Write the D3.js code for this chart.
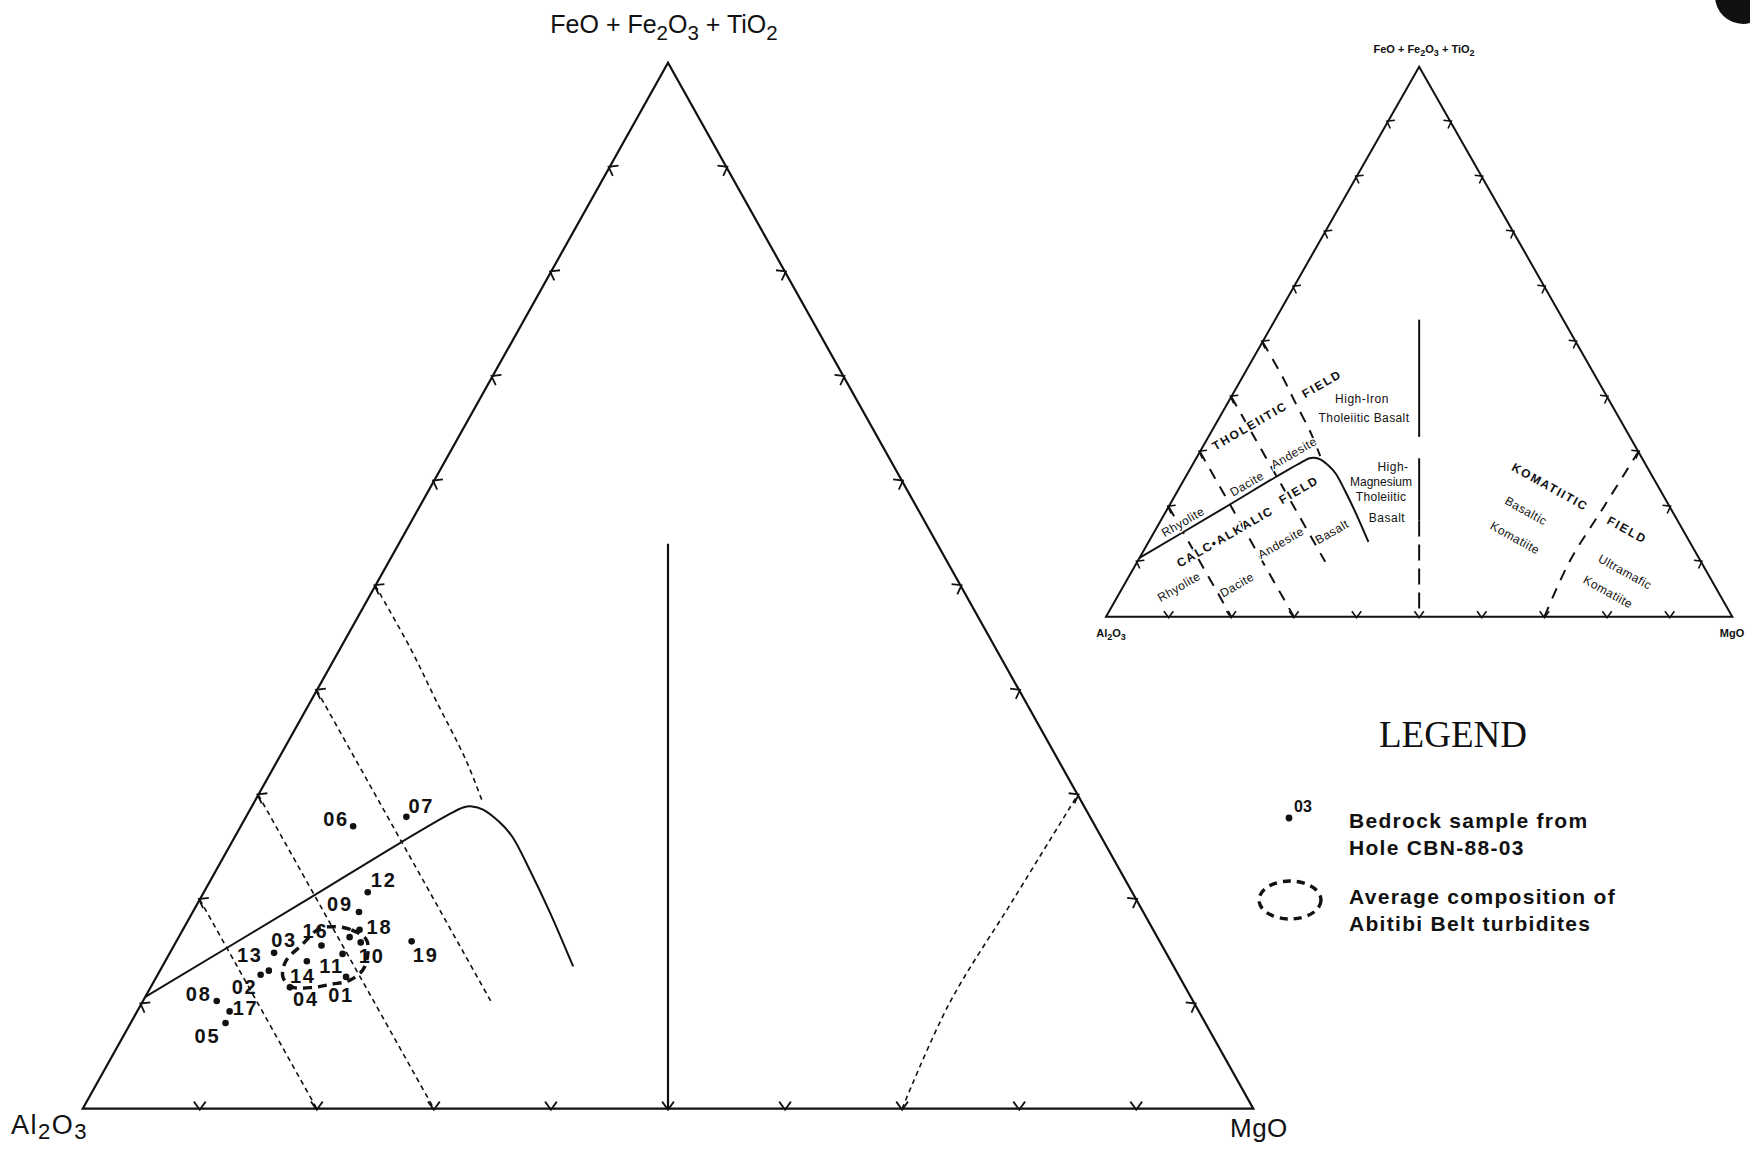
<!DOCTYPE html>
<html>
<head>
<meta charset="utf-8">
<title>Jensen cation plot - CBN-88-03</title>
<script src="https://d3js.org/d3.v7.min.js"></script>
<style>
  body { margin: 0; background: #fff; }
  text { font-family: "Liberation Sans", Arial, Helvetica, sans-serif; fill: #111; }
</style>
</head>
<body>
<svg id="chart" width="1750" height="1149"></svg>
<script>
// cation %: Al2O3 / FeO+Fe2O3+TiO2 / MgO
var sampleIds = ["01","02","03","04","05","06","07","08","09","10","11","12","13","14","","16","17","18","19"];
var sampleAl  = [71.2, 78.4, 76.2, 76.5, 83.7, 63.4, 58.4, 83.4, 67.0, 68.3, 70.4, 65.3, 77.5, 73.8, 69.0, 71.8, 82.8, 67.8, 63.9];
var sampleFe  = [12.6, 12.8, 14.9, 11.6,  8.2, 27.0, 27.9, 10.3, 18.8, 15.9, 14.8, 20.7, 13.2, 14.1, 16.4, 15.6,  9.3, 17.1, 16.0];
var sampleMg  = [16.2,  8.8,  8.9, 11.9,  8.1,  9.6, 13.7,  6.3, 14.2, 15.8, 14.8, 14.0,  9.3, 12.1, 14.6, 12.6,  7.9, 15.1, 20.1];

// Abitibi turbidite average field (outline)
var turbiditeOutline = [
  [69.9,17.4,12.7],[68.5,17.1,14.4],[67.7,16.0,16.3],[69.1,13.6,17.3],[71.0,12.3,16.7],[72.8,11.9,15.3],
  [74.5,11.6,13.9],[76.2,11.6,12.2],[76.6,12.6,10.8],[75.5,14.2,10.3],[73.4,15.7,10.9],[71.4,17.1,11.5]
];

// tholeiitic / calc-alkalic boundary
var boundaryTHCA = [
  [89.3,10.7,0],[71.6,19.6,8.8],[60.2,25.4,14.4],[54.5,28.2,17.3],[53.1,28.8,18.1],[52.3,28.9,18.8],
  [51.5,28.6,19.9],[50.7,27.4,21.9],[50.3,26.0,23.7],[50.4,22.8,26.8],[50.7,18.8,30.5],[51.3,13.6,35.1]
];
// rock-type divisions
var rhyoliteDacite = [[80,20,0],[80,0,20]];
var daciteAndesite = [[70,30,0],[70,0,30]];
var andesiteBasalt = [[60,40,0],[60,10,30]];
var basaltTholeiite = [[50,50,0],[50,43.9,6.1],[50.3,39.1,10.6],[50.6,33.3,16.1],[51.2,29.2,19.6]];
var komatiiteLine = [[30,0,70],[21,10,69],[10.5,20,69.5],[0,30,70]];
var tholeiiteKomatiite = [[50,0,50],[23,54,23]];
var insetVerticalSolid = [[54,32.7],[28.8,17.5]];   // Fe ranges
var insetVerticalDashed = [[17.5,0]];

var tickValues = d3.range(10, 100, 10);

var mainFrame  = {left: 82.7, right: 1253.3, top: 62.7, bottom: 1108.7};
var insetFrame = {left: 1106, right: 1732.3, top: 66.7, bottom: 616.7};

var labelOffsets = {
  "01":[-5,18], "02":[-16,12], "03":[10,-13], "04":[16,12], "05":[-18,13], "06":[-17,-7],
  "07":[15,-11], "08":[-18,-7], "09":[-19,-8], "10":[11,14], "11":[-11,12], "12":[16,-12],
  "13":[-19,-16], "14":[-4,15], "16":[-6,-15], "17":[16,-3], "18":[20,-3], "19":[14,14]
};

var svg = d3.select("#chart");
svg.append("rect").attr("width", 1750).attr("height", 1149).attr("fill", "#fff");

function makeProjection(frame) {
  var x = d3.scaleLinear().domain([0, 100]).range([frame.left, frame.right]);
  var y = d3.scaleLinear().domain([0, 100]).range([frame.bottom, frame.top]);
  return function(p) {
    var s = p[0] + p[1] + p[2];
    return [x((p[2] + p[1] / 2) / s * 100), y(p[1] / s * 100)];
  };
}

function drawFrame(g, proj, o) {
  var A = proj([100,0,0]), F = proj([0,100,0]), M = proj([0,0,100]);
  g.append("path")
    .attr("d", "M" + A + "L" + F + "L" + M + "Z")
    .attr("fill", "none").attr("stroke", "#111")
    .attr("stroke-width", o.edge).attr("stroke-linejoin", "miter");
  var cx = (A[0] + F[0] + M[0]) / 3, cy = (A[1] + F[1] + M[1]) / 3;
  var sides = [
    function(t) { return [100 - t, 0, t]; },
    function(t) { return [100 - t, t, 0]; },
    function(t) { return [0, t, 100 - t]; }
  ];
  var a = 36 * Math.PI / 180;
  sides.forEach(function(side) {
    var p0 = proj(side(0)), p1 = proj(side(100));
    var len = Math.hypot(p1[0] - p0[0], p1[1] - p0[1]);
    var tx = (p1[0] - p0[0]) / len, ty = (p1[1] - p0[1]) / len;
    tickValues.forEach(function(t) {
      var p = proj(side(t));
      var nx = -ty, ny = tx;
      if (nx * (p[0] - cx) + ny * (p[1] - cy) < 0) { nx = -nx; ny = -ny; }
      var L = o.tick;
      var v = [p[0] + nx * o.tickOut, p[1] + ny * o.tickOut];
      var e1 = [v[0] - nx * L * Math.cos(a) + tx * L * Math.sin(a), v[1] - ny * L * Math.cos(a) + ty * L * Math.sin(a)];
      var e2 = [v[0] - nx * L * Math.cos(a) - tx * L * Math.sin(a), v[1] - ny * L * Math.cos(a) - ty * L * Math.sin(a)];
      g.append("path")
        .attr("d", "M" + e1 + "L" + v + "L" + e2)
        .attr("fill", "none").attr("stroke", "#111").attr("stroke-width", o.tickW);
    });
  });
}

function chem(g, str, x, y, size, anchor, weight, spacing, sub) {
  var t = g.append("text").attr("x", x).attr("y", y)
    .attr("font-size", size).attr("text-anchor", anchor)
    .attr("font-weight", weight || "normal")
    .attr("letter-spacing", spacing || 0);
  var down = false, shift = size * (sub || 0.28);
  str.split(/(\d)/).forEach(function(s) {
    if (!s) return;
    var isSub = /^\d$/.test(s);
    var dy = 0;
    if (isSub && !down) { dy = shift; down = true; }
    else if (!isSub && down) { dy = -shift; down = false; }
    t.append("tspan").attr("dy", dy).attr("font-size", isSub ? size * 0.82 : size).text(s);
  });
  return t;
}

function lineOf(proj, pts, curve) {
  return d3.line().curve(curve || d3.curveLinear)(pts.map(proj));
}

// ---------- main diagram ----------
var main = svg.append("g");
var pm = makeProjection(mainFrame);
drawFrame(main, pm, {edge: 2.2, tick: 10, tickOut: 1, tickW: 1.8});

[rhyoliteDacite, daciteAndesite, andesiteBasalt].forEach(function(l) {
  main.append("path").attr("d", lineOf(pm, l))
    .attr("fill", "none").attr("stroke", "#111").attr("stroke-width", 1.6)
    .attr("stroke-dasharray", "5,4");
});
[basaltTholeiite, komatiiteLine].forEach(function(l) {
  main.append("path").attr("d", lineOf(pm, l, d3.curveCatmullRom.alpha(0.5)))
    .attr("fill", "none").attr("stroke", "#111").attr("stroke-width", 1.6)
    .attr("stroke-dasharray", "5,4");
});
main.append("path").attr("d", lineOf(pm, boundaryTHCA, d3.curveCatmullRom.alpha(0.5)))
  .attr("fill", "none").attr("stroke", "#111").attr("stroke-width", 2);
main.append("path").attr("d", lineOf(pm, tholeiiteKomatiite))
  .attr("fill", "none").attr("stroke", "#111").attr("stroke-width", 2.2);

main.append("path")
  .attr("d", d3.line().curve(d3.curveCardinalClosed.tension(0))(turbiditeOutline.map(pm)))
  .attr("fill", "none").attr("stroke", "#111").attr("stroke-width", 3.4)
  .attr("stroke-dasharray", "9,6");

var samples = sampleIds.map(function(id, i) {
  return {id: id, p: pm([sampleAl[i], sampleFe[i], sampleMg[i]])};
});
main.selectAll("circle.sample").data(samples).enter().append("circle")
  .attr("class", "sample")
  .attr("cx", function(d) { return d.p[0]; })
  .attr("cy", function(d) { return d.p[1]; })
  .attr("r", 3.3).attr("fill", "#111");
main.selectAll("text.sample").data(samples.filter(function(d) { return d.id; })).enter().append("text")
  .attr("class", "sample")
  .attr("x", function(d) { return d.p[0] + labelOffsets[d.id][0]; })
  .attr("y", function(d) { return d.p[1] + labelOffsets[d.id][1]; })
  .attr("text-anchor", "middle").attr("dominant-baseline", "central")
  .attr("font-size", 20).attr("font-weight", "bold").attr("letter-spacing", 1.8)
  .text(function(d) { return d.id; });

chem(main, "FeO + Fe2O3 + TiO2", 664, 33, 25, "middle");
chem(main, "Al2O3", 11, 1134, 27, "start", "normal", 1.5, 0.2);
chem(main, "MgO", 1230, 1137, 26, "start", "normal", 0.5);

// ---------- inset: Jensen (1976) fields ----------
var inset = svg.append("g");
var pi = makeProjection(insetFrame);
drawFrame(inset, pi, {edge: 2, tick: 8, tickOut: 1, tickW: 1.6});

[rhyoliteDacite, daciteAndesite, andesiteBasalt].forEach(function(l) {
  inset.append("path").attr("d", lineOf(pi, l))
    .attr("fill", "none").attr("stroke", "#111").attr("stroke-width", 2)
    .attr("stroke-dasharray", "11,9");
});
[basaltTholeiite, komatiiteLine].forEach(function(l) {
  inset.append("path").attr("d", lineOf(pi, l, d3.curveCatmullRom.alpha(0.5)))
    .attr("fill", "none").attr("stroke", "#111").attr("stroke-width", 2)
    .attr("stroke-dasharray", "11,9");
});
inset.append("path").attr("d", lineOf(pi, boundaryTHCA, d3.curveCatmullRom.alpha(0.5)))
  .attr("fill", "none").attr("stroke", "#111").attr("stroke-width", 2);
insetVerticalSolid.forEach(function(r) {
  inset.append("path").attr("d", lineOf(pi, [[(100 - r[0]) / 2, r[0], (100 - r[0]) / 2], [(100 - r[1]) / 2, r[1], (100 - r[1]) / 2]]))
    .attr("stroke", "#111").attr("stroke-width", 2);
});
insetVerticalDashed.forEach(function(r) {
  inset.append("path").attr("d", lineOf(pi, [[(100 - r[0]) / 2, r[0], (100 - r[0]) / 2], [(100 - r[1]) / 2, r[1], (100 - r[1]) / 2]]))
    .attr("stroke", "#111").attr("stroke-width", 2).attr("stroke-dasharray", "16,8");
});

var insetLabels = [
  {t: "THOLEIITIC", x: 1250, y: 426, r: -30, s: 12, w: "bold", ls: 1.8},
  {t: "FIELD", x: 1322, y: 384, r: -30, s: 12, w: "bold", ls: 1.8},
  {t: "High-Iron", x: 1362, y: 399, r: 0, s: 12, w: "normal", ls: 0.5},
  {t: "Tholeiitic Basalt", x: 1364, y: 418, r: 0, s: 12, w: "normal", ls: 0.4},
  {t: "Andesite", x: 1294, y: 453, r: -30, s: 12, w: "normal", ls: 0.5},
  {t: "Dacite", x: 1247, y: 484, r: -30, s: 12, w: "normal", ls: 0.5},
  {t: "Rhyolite", x: 1183, y: 522, r: -30, s: 12, w: "normal", ls: 0.5},
  {t: "CALC\u2022ALKALIC", x: 1225, y: 537, r: -30, s: 12, w: "bold", ls: 1.6},
  {t: "FIELD", x: 1299, y: 490, r: -30, s: 12, w: "bold", ls: 1.8},
  {t: "Andesite", x: 1281, y: 543, r: -30, s: 12, w: "normal", ls: 0.5},
  {t: "Basalt", x: 1332, y: 532, r: -30, s: 12, w: "normal", ls: 0.5},
  {t: "Rhyolite", x: 1179, y: 587, r: -30, s: 12, w: "normal", ls: 0.5},
  {t: "Dacite", x: 1237, y: 585, r: -30, s: 12, w: "normal", ls: 0.5},
  {t: "High-", x: 1393, y: 467, r: 0, s: 12, w: "normal", ls: 0.5},
  {t: "Magnesium", x: 1381, y: 482, r: 0, s: 12, w: "normal", ls: 0},
  {t: "Tholeiitic", x: 1381, y: 497, r: 0, s: 12, w: "normal", ls: 0.3},
  {t: "Basalt", x: 1387, y: 518, r: 0, s: 12, w: "normal", ls: 0.5},
  {t: "KOMATIITIC", x: 1550, y: 487, r: 29, s: 12, w: "bold", ls: 1.6},
  {t: "Basaltic", x: 1526, y: 511, r: 29, s: 12, w: "normal", ls: 0.5},
  {t: "Komatiite", x: 1515, y: 538, r: 29, s: 12, w: "normal", ls: 0.5},
  {t: "FIELD", x: 1627, y: 530, r: 29, s: 12, w: "bold", ls: 1.8},
  {t: "Ultramafic", x: 1625, y: 572, r: 29, s: 12, w: "normal", ls: 0.5},
  {t: "Komatiite", x: 1608, y: 592, r: 29, s: 12, w: "normal", ls: 0.5}
];
inset.selectAll("text.field").data(insetLabels).enter().append("text")
  .attr("class", "field")
  .attr("transform", function(d) { return "translate(" + d.x + "," + d.y + ") rotate(" + d.r + ")"; })
  .attr("text-anchor", "middle").attr("dominant-baseline", "central")
  .attr("font-size", function(d) { return d.s; })
  .attr("font-weight", function(d) { return d.w; })
  .attr("letter-spacing", function(d) { return d.ls; })
  .attr("stroke", "#fff").attr("stroke-width", 3).attr("paint-order", "stroke")
  .text(function(d) { return d.t; });

chem(inset, "FeO + Fe2O3 + TiO2", 1424, 53, 11, "middle", "bold");
chem(inset, "Al2O3", 1111, 637, 11, "middle", "bold");
chem(inset, "MgO", 1732, 637, 11, "middle", "bold");

// ---------- legend ----------
var legend = svg.append("g");
legend.append("text").attr("x", 1453).attr("y", 747).attr("text-anchor", "middle")
  .style("font-family", "'Liberation Serif', 'Times New Roman', serif")
  .attr("font-size", 37).text("LEGEND");
legend.append("circle").attr("cx", 1289).attr("cy", 818).attr("r", 3.4).attr("fill", "#111");
legend.append("text").attr("x", 1294).attr("y", 812).attr("font-size", 16).attr("font-weight", "bold").text("03");
var legendLines = [
  {t: "Bedrock sample from", y: 828},
  {t: "Hole CBN-88-03", y: 855},
  {t: "Average composition of", y: 904},
  {t: "Abitibi Belt turbidites", y: 931}
];
legend.selectAll("text.item").data(legendLines).enter().append("text")
  .attr("class", "item")
  .attr("x", 1349).attr("y", function(d) { return d.y; })
  .attr("font-size", 21).attr("font-weight", "bold").attr("letter-spacing", 1.3)
  .text(function(d) { return d.t; });
legend.append("ellipse").attr("cx", 1290).attr("cy", 900).attr("rx", 31).attr("ry", 19)
  .attr("fill", "none").attr("stroke", "#111").attr("stroke-width", 3.4)
  .attr("stroke-dasharray", "8,6");

// punch hole in the scanned sheet
svg.append("circle").attr("cx", 1743).attr("cy", -4).attr("r", 28).attr("fill", "#111");
</script>
</body>
</html>
